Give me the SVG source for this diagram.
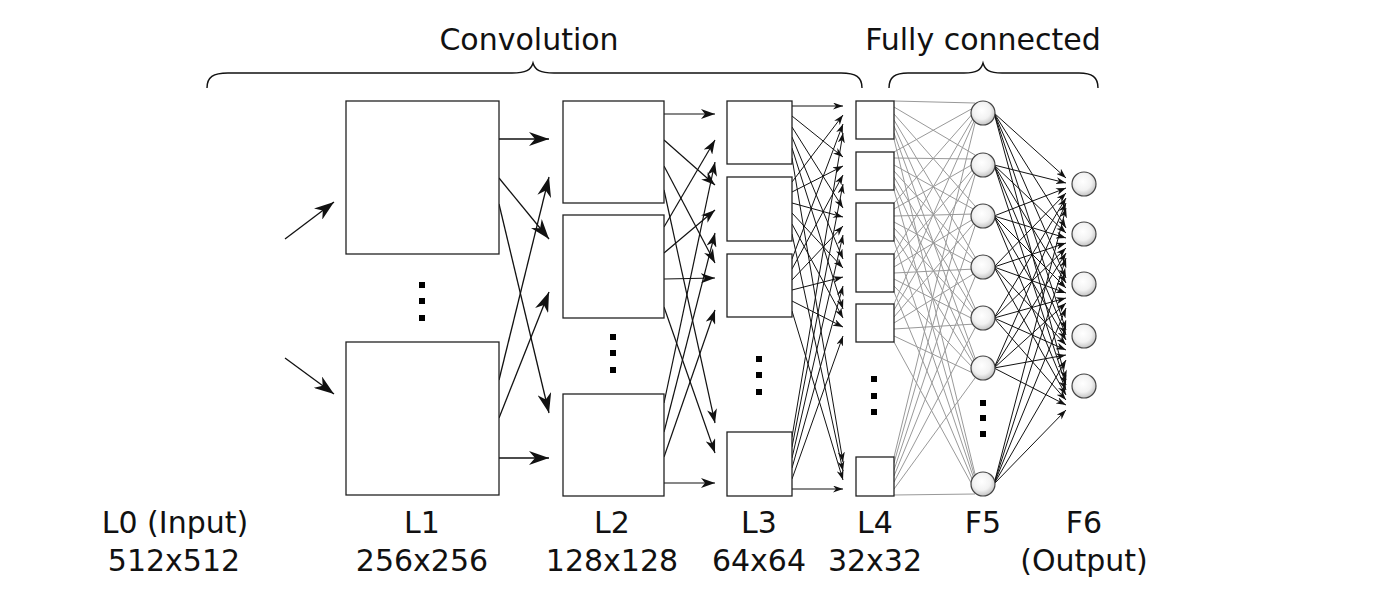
<svg xmlns="http://www.w3.org/2000/svg" width="1400" height="600" viewBox="0 0 1400 600">
<style>
.t{font-family:"DejaVu Sans","Liberation Sans",sans-serif;font-size:30px;fill:#111;text-anchor:middle}
.box{fill:#fff;stroke:#222;stroke-width:1.3}
.neu{fill:url(#ng);stroke:#444;stroke-width:1.2}
.dot{fill:#000}
.brace{fill:none;stroke:#111;stroke-width:1.4}
.big{stroke:#111;stroke-width:1.3;marker-end:url(#ab)}
.med{stroke:#111;stroke-width:1.2;marker-end:url(#am)}
.sm{stroke:#111;stroke-width:1;marker-end:url(#as)}
.grey{fill:none;stroke:#999;stroke-width:1}
</style>
<defs>
<radialGradient id="ng" cx="0.45" cy="0.4" r="0.6"><stop offset="0" stop-color="#fff"/><stop offset="0.6" stop-color="#f2f2f2"/><stop offset="1" stop-color="#c4c4c4"/></radialGradient>
<marker id="ab" viewBox="-20 -7 21 14" refX="0" refY="0" markerWidth="21" markerHeight="14" orient="auto" markerUnits="userSpaceOnUse"><path d="M0,0 L-20,-7 L-14,0 L-20,7 Z" fill="#111"/></marker>
<marker id="am" viewBox="-14 -5 15 10" refX="0" refY="0" markerWidth="15" markerHeight="10" orient="auto" markerUnits="userSpaceOnUse"><path d="M0,0 L-14,-5 L-10,0 L-14,5 Z" fill="#111"/></marker>
<marker id="as" viewBox="-10 -3.5 11 7" refX="0" refY="0" markerWidth="11" markerHeight="7" orient="auto" markerUnits="userSpaceOnUse"><path d="M0,0 L-10,-3.5 L-7,0 L-10,3.5 Z" fill="#111"/></marker>
</defs>
<rect width="1400" height="600" fill="#fff"/>

<g id="connectors">
<!-- L0 -> L1 -->
<line class="big" x1="285" y1="239" x2="334" y2="202"/>
<line class="big" x1="285" y1="358" x2="334" y2="394"/>
<!-- L1 -> L2 -->
<line class="big" x1="499" y1="139" x2="549" y2="139"/>
<line class="big" x1="499" y1="178" x2="549" y2="239"/>
<line class="big" x1="499" y1="204" x2="549" y2="413"/>
<line class="big" x1="499" y1="380" x2="549" y2="177"/>
<line class="big" x1="499" y1="418" x2="549" y2="292"/>
<line class="big" x1="499" y1="458" x2="549" y2="458"/>
<!-- L2 -> L3 -->
<line class="med" x1="664" y1="114" x2="715" y2="114"/>
<line class="med" x1="664" y1="140" x2="715" y2="185"/>
<line class="med" x1="664" y1="166" x2="715" y2="263"/>
<line class="med" x1="664" y1="190" x2="715" y2="423"/>
<line class="med" x1="664" y1="227" x2="715" y2="140"/>
<line class="med" x1="664" y1="253" x2="715" y2="210"/>
<line class="med" x1="664" y1="279" x2="715" y2="278"/>
<line class="med" x1="664" y1="307" x2="715" y2="453"/>
<line class="med" x1="664" y1="403" x2="715" y2="162"/>
<line class="med" x1="664" y1="432" x2="715" y2="233"/>
<line class="med" x1="664" y1="457" x2="715" y2="310"/>
<line class="med" x1="664" y1="483" x2="715" y2="483"/>
<!-- L3 -> L4 -->
<line class="sm" x1="792" y1="106" x2="843" y2="106"/>
<line class="sm" x1="792" y1="116" x2="843" y2="157"/>
<line class="sm" x1="792" y1="127" x2="843" y2="208"/>
<line class="sm" x1="792" y1="137" x2="843" y2="259"/>
<line class="sm" x1="792" y1="148" x2="843" y2="309"/>
<line class="sm" x1="792" y1="158" x2="843" y2="462"/>
<line class="sm" x1="792" y1="182" x2="843" y2="115"/>
<line class="sm" x1="792" y1="192" x2="843" y2="166"/>
<line class="sm" x1="792" y1="203" x2="843" y2="217"/>
<line class="sm" x1="792" y1="213" x2="843" y2="268"/>
<line class="sm" x1="792" y1="224" x2="843" y2="318"/>
<line class="sm" x1="792" y1="234" x2="843" y2="471"/>
<line class="sm" x1="792" y1="259" x2="843" y2="124"/>
<line class="sm" x1="792" y1="269" x2="843" y2="175"/>
<line class="sm" x1="792" y1="280" x2="843" y2="226"/>
<line class="sm" x1="792" y1="290" x2="843" y2="277"/>
<line class="sm" x1="792" y1="301" x2="843" y2="327"/>
<line class="sm" x1="792" y1="311" x2="843" y2="480"/>
<line class="sm" x1="792" y1="437" x2="843" y2="133"/>
<line class="sm" x1="792" y1="447" x2="843" y2="184"/>
<line class="sm" x1="792" y1="458" x2="843" y2="235"/>
<line class="sm" x1="792" y1="468" x2="843" y2="286"/>
<line class="sm" x1="792" y1="479" x2="843" y2="336"/>
<line class="sm" x1="792" y1="489" x2="843" y2="489"/>
<!-- L4 -> F5 (grey, fully connected) -->
<path class="grey" d="M894,101 L975,103 M894,107 L975,155 M894,114 L975,206 M894,120 L975,257 M894,126 L975,308 M894,133 L975,358 M894,139 L975,474
M894,152 L975,107 M894,158 L975,159 M894,165 L975,210 M894,171 L975,261 M894,177 L975,312 M894,184 L975,362 M894,190 L975,478
M894,203 L975,111 M894,209 L975,163 M894,216 L975,214 M894,222 L975,265 M894,228 L975,316 M894,235 L975,366 M894,241 L975,482
M894,254 L975,115 M894,260 L975,167 M894,267 L975,218 M894,273 L975,269 M894,279 L975,320 M894,286 L975,370 M894,292 L975,486
M894,304 L975,119 M894,310 L975,171 M894,317 L975,222 M894,323 L975,273 M894,329 L975,324 M894,336 L975,374 M894,342 L975,490
M894,457 L975,123 M894,463 L975,175 M894,470 L975,226 M894,476 L975,277 M894,482 L975,328 M894,489 L975,378 M894,495 L975,494"/>
<!-- F5 -> F6 -->
<line class="sm" x1="994" y1="113" x2="1066" y2="178"/>
<line class="sm" x1="994" y1="113" x2="1066" y2="228"/>
<line class="sm" x1="994" y1="113" x2="1066" y2="278"/>
<line class="sm" x1="994" y1="113" x2="1066" y2="330"/>
<line class="sm" x1="994" y1="113" x2="1066" y2="380"/>
<line class="sm" x1="994" y1="165" x2="1066" y2="183"/>
<line class="sm" x1="994" y1="165" x2="1066" y2="233"/>
<line class="sm" x1="994" y1="165" x2="1066" y2="283"/>
<line class="sm" x1="994" y1="165" x2="1066" y2="335"/>
<line class="sm" x1="994" y1="165" x2="1066" y2="385"/>
<line class="sm" x1="994" y1="216" x2="1066" y2="188"/>
<line class="sm" x1="994" y1="216" x2="1066" y2="238"/>
<line class="sm" x1="994" y1="216" x2="1066" y2="288"/>
<line class="sm" x1="994" y1="216" x2="1066" y2="340"/>
<line class="sm" x1="994" y1="216" x2="1066" y2="390"/>
<line class="sm" x1="994" y1="267" x2="1066" y2="193"/>
<line class="sm" x1="994" y1="267" x2="1066" y2="243"/>
<line class="sm" x1="994" y1="267" x2="1066" y2="293"/>
<line class="sm" x1="994" y1="267" x2="1066" y2="345"/>
<line class="sm" x1="994" y1="267" x2="1066" y2="395"/>
<line class="sm" x1="994" y1="318" x2="1066" y2="198"/>
<line class="sm" x1="994" y1="318" x2="1066" y2="248"/>
<line class="sm" x1="994" y1="318" x2="1066" y2="298"/>
<line class="sm" x1="994" y1="318" x2="1066" y2="350"/>
<line class="sm" x1="994" y1="318" x2="1066" y2="400"/>
<line class="sm" x1="994" y1="368" x2="1066" y2="203"/>
<line class="sm" x1="994" y1="368" x2="1066" y2="253"/>
<line class="sm" x1="994" y1="368" x2="1066" y2="303"/>
<line class="sm" x1="994" y1="368" x2="1066" y2="355"/>
<line class="sm" x1="994" y1="368" x2="1066" y2="405"/>
<line class="sm" x1="994" y1="484" x2="1066" y2="208"/>
<line class="sm" x1="994" y1="484" x2="1066" y2="258"/>
<line class="sm" x1="994" y1="484" x2="1066" y2="308"/>
<line class="sm" x1="994" y1="484" x2="1066" y2="360"/>
<line class="sm" x1="994" y1="484" x2="1066" y2="410"/>
</g>

<g id="braces">
<text class="t" x="529" y="50">Convolution</text>
<path class="brace" d="M207,88 C207,77 213,73 228,73 L512,73 C526,73 531,70 533,63 C535,70 540,73 554,73 L841,73 C856,73 862,77 862,88"/>
<text class="t" x="983" y="50">Fully connected</text>
<path class="brace" d="M889,88 C889,77 895,73 908,73 L964,73 C977,73 981,70 983,63 C985,70 989,73 1002,73 L1079,73 C1092,73 1098,77 1098,88"/>
</g>

<g id="L1">
<rect class="box" x="346" y="101" width="153" height="153"/>
<rect class="box" x="346" y="342" width="153" height="153"/>
<rect class="dot" x="419" y="282" width="6" height="6"/>
<rect class="dot" x="419" y="298" width="6" height="6"/>
<rect class="dot" x="419" y="315" width="6" height="6"/>
</g>
<g id="L2">
<rect class="box" x="563" y="101" width="101" height="102"/>
<rect class="box" x="563" y="215" width="101" height="103"/>
<rect class="box" x="563" y="394" width="101" height="102"/>
<rect class="dot" x="610" y="334" width="6" height="6"/>
<rect class="dot" x="610" y="350" width="6" height="6"/>
<rect class="dot" x="610" y="367" width="6" height="6"/>
</g>
<g id="L3">
<rect class="box" x="727" y="101" width="65" height="63"/>
<rect class="box" x="727" y="177" width="65" height="64"/>
<rect class="box" x="727" y="254" width="65" height="63"/>
<rect class="box" x="727" y="432" width="65" height="64"/>
<rect class="dot" x="756" y="356" width="6" height="6"/>
<rect class="dot" x="756" y="372" width="6" height="6"/>
<rect class="dot" x="756" y="389" width="6" height="6"/>
</g>
<g id="L4">
<rect class="box" x="856" y="101" width="38" height="38"/>
<rect class="box" x="856" y="152" width="38" height="38"/>
<rect class="box" x="856" y="203" width="38" height="38"/>
<rect class="box" x="856" y="254" width="38" height="38"/>
<rect class="box" x="856" y="304" width="38" height="38"/>
<rect class="box" x="856" y="457" width="38" height="39"/>
<rect class="dot" x="871" y="376" width="6" height="6"/>
<rect class="dot" x="871" y="393" width="6" height="6"/>
<rect class="dot" x="871" y="409" width="6" height="6"/>
</g>
<g id="F5">
<circle class="neu" cx="983" cy="113" r="12"/>
<circle class="neu" cx="983" cy="165" r="12"/>
<circle class="neu" cx="983" cy="216" r="12"/>
<circle class="neu" cx="983" cy="267" r="12"/>
<circle class="neu" cx="983" cy="318" r="12"/>
<circle class="neu" cx="983" cy="368" r="12"/>
<circle class="neu" cx="983" cy="484" r="12"/>
<rect class="dot" x="980" y="400" width="6" height="6"/>
<rect class="dot" x="980" y="415" width="6" height="6"/>
<rect class="dot" x="980" y="431" width="6" height="6"/>
</g>
<g id="F6">
<circle class="neu" cx="1084" cy="184" r="12"/>
<circle class="neu" cx="1084" cy="234" r="12"/>
<circle class="neu" cx="1084" cy="284" r="12"/>
<circle class="neu" cx="1084" cy="336" r="12"/>
<circle class="neu" cx="1084" cy="386" r="12"/>
</g>

<g id="labels">
<text class="t" x="175" y="533">L0 (Input)</text>
<text class="t" x="174" y="571">512x512</text>
<text class="t" x="422" y="533">L1</text>
<text class="t" x="422" y="571">256x256</text>
<text class="t" x="612" y="533">L2</text>
<text class="t" x="612" y="571">128x128</text>
<text class="t" x="759" y="533">L3</text>
<text class="t" x="759" y="571">64x64</text>
<text class="t" x="875" y="533">L4</text>
<text class="t" x="875" y="571">32x32</text>
<text class="t" x="983" y="533">F5</text>
<text class="t" x="1084" y="533">F6</text>
<text class="t" x="1084" y="571">(Output)</text>
</g>
</svg>
